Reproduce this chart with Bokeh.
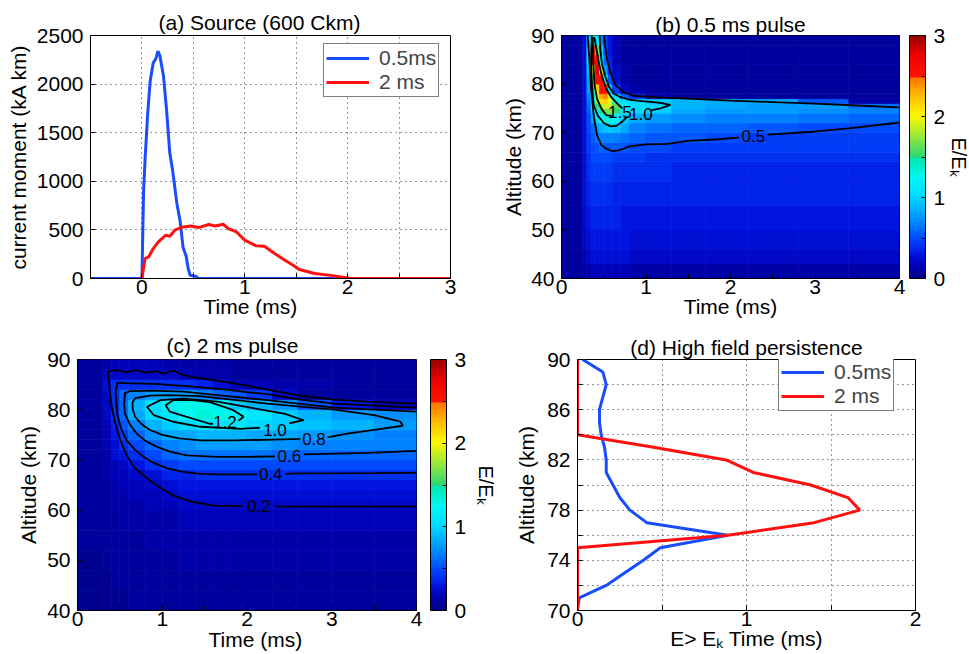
import numpy as np
from bokeh.plotting import figure
from bokeh.models import (Range1d, FixedTicker, Legend, LegendItem, Title,
                          ColorBar, LinearColorMapper, ColumnDataSource)
from bokeh.layouts import row, column
from bokeh.core.properties import value
from bokeh.embed import file_html
from bokeh.resources import INLINE

nan = float("nan")
FONT = "Liberation Sans"
FS = "21px"
BLUE = "#1a4cff"
RED = "#ff1010"

# ---------------- (a) Source current moment (kA km) vs time (ms) ----------------
pulse05_t = [-0.5, 0.0, 0.016, 0.032, 0.055, 0.08, 0.11, 0.135, 0.155, 0.175, 0.21, 0.24,
             0.27, 0.30, 0.34, 0.37, 0.40, 0.43, 0.45, 0.47, 0.50, 0.53, 0.55, 3.0]
pulse05_v = [0, 0, 900, 1250, 1680, 2030, 2220, 2260, 2340, 2290, 2080, 1730,
             1300, 1100, 770, 600, 320, 230, 100, 30, 30, 20, 0, 0]
pulse2_t = [0.0, 0.03, 0.065, 0.11, 0.16, 0.23, 0.27, 0.32, 0.40, 0.48, 0.55, 0.65, 0.71,
            0.79, 0.84, 0.92, 1.0, 1.11, 1.19, 1.29, 1.39, 1.47, 1.53, 1.68, 1.87, 2.03, 3.0]
pulse2_v = [0, 205, 222, 308, 376, 445, 435, 497, 531, 541, 524, 555, 541,
            558, 514, 479, 394, 336, 332, 257, 188, 137, 92, 51, 27, 0, 0]
legend_labels = ["0.5ms", "2 ms"]

# ---------------- (b) 0.5 ms pulse: E/Ek field ----------------
b_time_edges = [0, 0.25, 0.3, 0.35, 0.4, 0.45, 0.5, 0.55, 0.6, 0.7, 0.8, 1.0, 1.3, 1.7, 2.2, 2.8, 3.4, 4.0]
b_alt_edges = [40, 43, 46, 50, 55, 60, 64, 66, 68, 70, 72, 74, 75, 76, 77, 78, 80, 82, 84, 86, 88, 90]
b_field = [
    [.06, .12, .14, .15, .15, .15, .15, .15, .15, .15, .14, .14, .14, .13, .13, .13, .13],
    [.06, .16, .22, .24, .25, .25, .25, .25, .24, .24, .23, .22, .22, .21, .21, .21, .21],
    [.07, .20, .28, .30, .31, .31, .31, .30, .29, .29, .28, .27, .27, .26, .26, .26, .26],
    [.07, .22, .32, .35, .36, .36, .35, .34, .33, .32, .31, .30, .30, .30, .29, .29, .29],
    [.08, .24, .36, .39, .40, .40, .39, .38, .37, .36, .35, .34, .33, .33, .33, .33, .33],
    [.08, .25, .40, .44, .45, .45, .44, .43, .41, .40, .39, .38, .37, .37, .37, .37, .37],
    [.08, .26, .42, .47, .49, .49, .48, .47, .46, .45, .43, .42, .41, .41, .40, .40, .40],
    [.08, .27, .44, .50, .55, .57, .56, .55, .53, .52, .50, .48, .46, .45, .44, .43, .43],
    [.08, .28, .45, .52, .62, .68, .70, .70, .68, .64, .58, .54, .52, .49, .46, .44, .43],
    [.08, .28, .47, .60, .76, .85, .90, .95, .92, .80, .68, .62, .60, .57, .54, .51, .47],
    [.08, .28, .50, .75, 1.0, 1.2, 1.35, 1.35, 1.2, .98, .82, .76, .72, .70, .66, .62, .58],
    [.08, .28, .55, .95, 1.2, 1.5, 1.65, 1.7, 1.5, 1.1, 1.0, .96, .80, .78, .75, .72, .68],
    [.08, .28, .60, 1.1, 1.5, 1.8, 1.9, 1.9, 1.6, 1.15, 1.05, 1.03, .85, .82, .79, .75, .62],
    [.08, .28, .65, 1.2, 1.7, 2.1, 2.2, 2.0, 1.4, 1.05, 1.0, .95, .86, .83, .80, .55, .10],
    [.08, .28, .70, 1.3, 1.9, 2.3, 2.4, 1.9, 1.1, .60, .42, .10, .07, .06, .06, .06, .06],
    [.07, .27, .75, 1.4, 2.2, 2.6, 2.5, 1.0, .45, .20, .10, .06, .05, .05, .05, .05, .05],
    [.07, .27, .80, 1.6, 2.6, 2.6, 1.2, .55, .25, .12, .07, .05, .05, .05, .05, .05, .05],
    [.07, .26, .90, 2.0, 2.8, 1.8, .75, .40, .20, .10, .06, .05, .05, .05, .05, .05, .05],
    [.07, .26, 1.0, 2.6, 2.6, 1.2, .60, .35, .15, .08, .05, .05, .05, .05, .05, .05, .05],
    [.07, .26, 1.0, 2.6, 1.6, .90, .50, .30, .15, .08, .05, .05, .05, .05, .05, .05, .05],
    [.07, .26, .90, 1.4, 1.1, .70, .45, .30, .15, .08, .05, .05, .05, .05, .05, .05, .05],
]
b_c05_t = [0.31, 0.33, 0.35, 0.38, 0.42, 0.47, 0.52, 0.60, 0.66, 0.72, 0.80, 1.00, 1.25, 1.50, 1.80, 2.10,
           nan, 2.44, 2.98, 3.40, 4.00, nan,
           0.50, 0.54, 0.58, 0.64, 0.74, 0.85, 1.10, 1.50, 2.00, 2.50, 3.00, 3.50, 4.00]
b_c05_a = [90, 85, 79, 73.7, 69.5, 67.5, 66.8, 66.2, 66.3, 66.6, 67.2, 67.6, 67.7, 68.3, 68.6, 69.0,
           nan, 69.6, 70.2, 70.9, 72.1, nan,
           90, 85, 82.3, 79.8, 78.3, 77.6, 77.3, 77.0, 76.6, 76.3, 76.0, 75.6, 75.2]
b_c10_t = [0.36, 0.35, 0.36, 0.38, 0.43, 0.50, 0.58, 0.65, 0.72, 0.78, nan,
           1.06, 1.17, 1.29, 1.15, 0.95, 0.80, 0.70, 0.62, 0.56, 0.52, 0.48, 0.46, 0.45]
b_c10_a = [90, 85, 80, 75.7, 73.5, 72.0, 71.3, 71.4, 72.3, 73.3, nan,
           74.6, 75.0, 75.7, 76.2, 76.5, 76.8, 77.3, 78.0, 79.5, 81.5, 84.0, 87.0, 90]
b_c15_t = [0.37, 0.375, 0.39, 0.42, 0.47, 0.53, 0.60, nan, 0.72, 0.66, 0.59, 0.53, 0.48, 0.44, 0.41, 0.39, 0.37]
b_c15_a = [89.5, 85, 80, 77, 75, 73.6, 73.4, nan, 75.0, 76.0, 77.3, 79, 81.5, 84.5, 87.5, 89.5, 89.5]
b_lab_text = ["0.5", "1.5", "1.0"]
b_lab_t = [2.27, 0.69, 0.94]
b_lab_a = [69.4, 74.2, 73.9]

# ---------------- (c) 2 ms pulse: E/Ek field ----------------
c_time_edges = [0, 0.3, 0.4, 0.5, 0.6, 0.8, 1.0, 1.2, 1.4, 1.6, 1.8, 2.0, 2.3, 2.6, 3.0, 3.5, 4.0]
c_alt_edges = [40, 44, 48, 52, 56, 60, 62, 64, 66, 68, 70, 72, 74, 76, 78, 80, 82, 84, 86, 88, 90]
c_field = [
    [.04, .04, .04, .04, .05, .05, .05, .05, .06, .06, .06, .06, .07, .07, .07, .07],
    [.04, .04, .05, .05, .06, .06, .07, .07, .08, .08, .08, .09, .09, .09, .09, .09],
    [.04, .05, .06, .06, .07, .08, .09, .10, .10, .11, .11, .11, .11, .11, .11, .11],
    [.05, .05, .07, .08, .09, .10, .11, .12, .13, .13, .14, .14, .14, .14, .14, .14],
    [.05, .06, .09, .10, .11, .12, .14, .15, .16, .17, .17, .17, .17, .17, .17, .17],
    [.05, .07, .10, .12, .13, .15, .17, .19, .20, .21, .21, .21, .21, .21, .21, .21],
    [.05, .08, .11, .13, .15, .17, .20, .24, .26, .27, .27, .27, .27, .27, .27, .27],
    [.05, .09, .12, .15, .18, .21, .26, .29, .31, .32, .32, .32, .32, .32, .32, .32],
    [.05, .10, .15, .18, .22, .28, .34, .37, .39, .40, .40, .40, .39, .39, .38, .38],
    [.05, .12, .18, .22, .30, .38, .43, .47, .49, .50, .50, .50, .50, .49, .49, .48],
    [.05, .14, .24, .32, .40, .50, .58, .61, .62, .62, .61, .61, .60, .59, .58, .57],
    [.05, .15, .28, .38, .47, .60, .68, .72, .75, .76, .76, .75, .72, .70, .68, .66],
    [.05, .16, .32, .45, .60, .72, .80, .84, .87, .87, .86, .84, .82, .78, .74, .70],
    [.05, .18, .36, .52, .70, .85, .95, 1.02, 1.10, 1.12, 1.08, 1.00, .95, .90, .85, .76],
    [.05, .20, .40, .58, .82, 1.0, 1.12, 1.25, 1.35, 1.30, 1.20, 1.10, .98, .88, .78, .72],
    [.05, .20, .40, .60, .85, 1.05, 1.20, 1.28, 1.30, 1.20, .98, .85, .75, .55, .30, .15],
    [.05, .20, .42, .60, .70, .76, .78, .75, .68, .58, .52, .45, .20, .08, .07, .06],
    [.05, .25, .42, .42, .42, .42, .41, .38, .33, .25, .18, .15, .12, .10, .09, .08],
    [.05, .20, .22, .22, .22, .21, .20, .16, .13, .11, .09, .08, .07, .06, .06, .06],
    [.05, .12, .15, .15, .15, .15, .14, .13, .12, .10, .08, .07, .06, .06, .06, .06],
]
c_c02_t = [4.0, 3.42, 3.03, 2.63, 2.24, 2.0, 1.76, 1.56, 1.4, 1.25, 1.13, 1.01, 0.93, 0.81, 0.69, 0.58, 0.46, 0.36,
           0.37, 0.38, 0.40, 0.44, 0.50, 0.58, 0.68, 0.90, 1.13, 1.37, 1.61, 1.95, nan, 2.33, 3.0, 4.0]
c_c02_a = [81.2, 81.6, 82.0, 82.8, 84.0, 84.8, 85.5, 86.0, 86.4, 86.9, 87.8, 87.2, 87.7, 87.4, 87.9, 87.5, 87.9, 87.6,
           86.0, 84.2, 80.9, 77.6, 74.2, 70.9, 68.3, 65.3, 62.9, 61.6, 60.9, 60.8, nan, 60.7, 60.7, 60.7]
c_c04_t = [4.0, 3.03, 2.63, 2.24, 2.0, 1.76, 1.36, 0.97, 0.58, 0.47, 0.45, 0.46, 0.47, 0.52, 0.58, 0.68, 0.78,
           0.9, 1.06, 1.25, 1.45, 1.7, 2.12, nan, 2.45, 2.63, 3.5, 4.0]
c_c04_a = [80.4, 81.2, 82.0, 83.1, 83.5, 84.0, 84.6, 85.1, 85.3, 85.4, 83.5, 81.0, 79.0, 76.0, 73.9, 72.0, 70.6,
           69.4, 68.3, 67.6, 67.2, 67.1, 67.1, nan, 67.2, 67.3, 67.35, 67.4]
c_c06_t = [4.0, 3.03, 2.24, 1.65, 1.25, 0.86, 0.62, 0.56, 0.55, 0.56, 0.62, 0.70, 0.80, 0.94, 1.10, 1.29, 1.65,
           2.0, 2.33, nan, 2.67, 3.42, 4.0]
c_c06_a = [79.6, 80.4, 81.9, 82.9, 83.6, 83.8, 83.7, 83.3, 81.0, 79.2, 77.0, 75.2, 73.8, 72.6, 71.6, 70.9, 70.6,
           70.6, 70.7, nan, 71.1, 71.4, 71.8]
c_c08_t = [2.95, 3.2, 3.5, 3.84, 3.81, 3.5, 3.03, 2.24, 1.45, 1.06, 0.85, 0.68, 0.65, 0.65, 0.68, 0.75, 0.85,
           1.0, 1.2, 1.45, 1.84, 2.2, 2.63]
c_c08_a = [74.5, 75.3, 76.0, 76.8, 77.6, 78.9, 80.0, 81.2, 82.7, 82.9, 82.8, 82.3, 81.5, 80.2, 78.6, 77.2, 76.0,
           75.0, 74.3, 73.9, 73.9, 74.0, 74.2]
c_c10_t = [2.15, 1.92, 1.45, 1.13, 0.9, 0.82, 0.98, 1.25, 1.65, 2.04, 2.44, 2.67, 2.5]
c_c10_a = [76.4, 76.2, 76.6, 77.6, 78.9, 80.6, 81.9, 82.2, 81.6, 80.4, 79.2, 77.9, 77.3]
c_c12_t = [1.6, 1.56, 1.28, 1.09, 1.04, 1.13, 1.35, 1.56, 1.84, 1.96, 1.9]
c_c12_a = [77.2, 77.2, 78.6, 79.6, 80.9, 81.9, 81.9, 81.5, 79.9, 78.6, 77.8]
c_lab_text = ["0.2", "0.4", "0.6", "0.8", "1.0", "1.2"]
c_lab_t = [2.14, 2.28, 2.50, 2.79, 2.33, 1.74]
c_lab_a = [60.8, 67.1, 70.8, 74.1, 76.0, 77.5]

# ---------------- (d) High field persistence ----------------
d_alt = [90, 89, 88, 87, 86, 85, 84, 83, 82, 81, 80, 79, 78, 77, 76, 75, 74, 73, 72, 71, 70]
d_time_05 = [0.03, 0.15, 0.17, 0.15, 0.13, 0.13, 0.14, 0.16, 0.17, 0.17, 0.21, 0.25, 0.31, 0.41, 0.89,
             0.49, 0.39, 0.28, 0.17, 0.01, 0.0]
d_time_2 = [0, 0, 0, 0, 0, 0, 0, 0.45, 0.88, 1.04, 1.38, 1.60, 1.67, 1.40, 0.89, 0, 0, 0, 0, 0, 0]

# ---------------- colour map (E/Ek, 0..3) ----------------
cmap_anchors = [(0.0, (0, 0, 135)), (0.15, (0, 0, 180)), (0.3, (0, 20, 225)), (0.5, (0, 75, 255)),
                (0.75, (0, 150, 255)), (1.0, (0, 215, 255)), (1.25, (0, 250, 245)), (1.49, (0, 230, 170)),
                (1.5, (40, 215, 120)), (1.75, (150, 230, 60)), (2.0, (250, 250, 0)), (2.25, (255, 190, 0)),
                (2.49, (255, 110, 0)), (2.5, (255, 20, 0)), (2.75, (240, 0, 0)), (3.0, (150, 0, 0))]


def build_palette(n=64):
    pal = []
    for i in range(n):
        v = (i + 0.5) / n * 3.0
        col = cmap_anchors[-1][1]
        for (v0, c0), (v1, c1) in zip(cmap_anchors[:-1], cmap_anchors[1:]):
            if v0 <= v <= v1:
                f = (v - v0) / (v1 - v0)
                col = tuple(int(round(a + (b - a) * f)) for a, b in zip(c0, c1))
                break
        pal.append("#%02x%02x%02x" % col)
    return pal


mapper = LinearColorMapper(palette=build_palette(), low=0, high=3)


def base_fig(w, h, xr, yr, bl, br, bt, bb):
    p = figure(width=w, height=h, x_range=Range1d(*xr), y_range=Range1d(*yr),
               output_backend="svg", toolbar_location=None, title_location=None,
               min_border_left=bl, min_border_right=br, min_border_top=bt, min_border_bottom=bb)
    p.outline_line_color = "black"
    p.outline_line_width = 1
    p.outline_line_alpha = 1
    p.background_fill_color = "white"
    p.border_fill_color = "white"
    return p


def style_axes(p, xticks, xlabs, yticks, ylabs, grid):
    for ax, ticks, labs, so in ((p.xaxis[0], xticks, xlabs, 1), (p.yaxis[0], yticks, ylabs, 7)):
        ax.ticker = FixedTicker(ticks=ticks)
        ax.major_label_overrides = {t: l for t, l in zip(ticks, labs)}
        ax.major_label_text_font = FONT
        ax.major_label_text_font_size = FS
        ax.major_label_text_color = "black"
        ax.major_tick_in = 5
        ax.major_tick_out = 0
        ax.major_tick_line_color = "black"
        ax.minor_tick_line_color = None
        ax.axis_line_color = "black"
        ax.major_label_standoff = so
    if grid:
        p.xgrid.ticker = FixedTicker(ticks=xticks)
        p.ygrid.ticker = FixedTicker(ticks=yticks)
        for g in (p.xgrid, p.ygrid):
            g.grid_line_color = "black"
            g.grid_line_alpha = 0.8
            g.grid_line_dash = "1 4"
            g.grid_line_width = 1
    else:
        p.grid.visible = False


def add_title(p, text, side, align="center", offset=0, standoff=0, valign="bottom", size=FS, lh=1.0):
    p.add_layout(Title(text=text, align=align, offset=offset, standoff=standoff, vertical_align=valign,
                       text_font=FONT, text_font_size=size, text_font_style="normal",
                       text_line_height=lh, text_color="black"), side)


def add_legend(p, renderers, loc):
    leg = Legend(items=[LegendItem(label=l, renderers=[r]) for l, r in zip(legend_labels, renderers)],
                 location=loc, label_text_font=FONT, label_text_font_size=FS,
                 label_text_line_height=0.9,
                 glyph_width=43, glyph_height=20, label_height=20, label_standoff=10,
                 padding=2, spacing=0, margin=0, border_line_color="black", border_line_width=1,
                 background_fill_color="white", background_fill_alpha=1)
    p.add_layout(leg)


def heatmap(p, t_edges, a_edges, field):
    L, R, B, T, V = [], [], [], [], []
    for j, rowv in enumerate(field):
        for i, v in enumerate(rowv):
            L.append(t_edges[i]); R.append(t_edges[i + 1])
            B.append(a_edges[j]); T.append(a_edges[j + 1]); V.append(v)
    src = ColumnDataSource(dict(left=L, right=R, bottom=B, top=T, val=V))
    p.quad(left="left", right="right", bottom="bottom", top="top", source=src,
           fill_color={"field": "val", "transform": mapper},
           line_color={"field": "val", "transform": mapper}, line_width=0.7)


def contours(p, pairs, lab_text, lab_t, lab_a):
    for xs, ys in pairs:
        p.line(np.array(xs, dtype=float), np.array(ys, dtype=float), line_color="black", line_width=1.8)
    p.text(x=lab_t, y=lab_a, text=lab_text, text_font=value(FONT), text_font_size=value("17px"),
           text_align="center", text_baseline="middle", text_color="black")


def colorbar(p, gap):
    cb = ColorBar(color_mapper=mapper, ticker=FixedTicker(ticks=[0, 0.5, 1, 1.5, 2, 2.5, 3]),
                  major_label_overrides={0.5: "", 1.5: "", 2.5: ""}, width=16, margin=0, padding=0,
                  location=(gap, 0),
                  label_standoff=8, major_label_text_font=FONT, major_label_text_font_size=FS,
                  major_label_text_color="black", major_tick_in=4, major_tick_line_color="black",
                  bar_line_color="black", border_line_color=None, background_fill_alpha=0)
    p.add_layout(cb, "right")


# ---------------- panel (a) ----------------
pa = base_fig(487, 322, (-0.5, 3), (0, 2500), 90, 37, 35, 44)
xa = [-0.5, 0, 0.5, 1, 1.5, 2, 2.5, 3]
style_axes(pa, xa, ["", "0", "", "1", "", "2", "", "3"],
           [0, 500, 1000, 1500, 2000, 2500], ["0", "500", "1000", "1500", "2000", "2500"], True)
ra1 = pa.line(pulse05_t, pulse05_v, line_color=BLUE, line_width=3)
ra2 = pa.line(pulse2_t, pulse2_v, line_color=RED, line_width=3)
add_legend(pa, [ra1, ra2], (233, 181))
add_title(pa, "(a) Source (600 Ckm)", "above", align="left", offset=68, standoff=2, valign="middle")
add_title(pa, "current moment (kA km)", "left", standoff=8, lh=1.2)
add_title(pa, "Time (ms)", "below", align="left", offset=113, standoff=-3, valign="top")

# ---------------- panel (b) ----------------
pb = base_fig(481, 322, (0, 4), (40, 90), 74, 69, 28, 43)
heatmap(pb, b_time_edges, b_alt_edges, b_field)
contours(pb, [(b_c05_t, b_c05_a), (b_c10_t, b_c10_a), (b_c15_t, b_c15_a)], b_lab_text, b_lab_t, b_lab_a)
xt4 = [0, 0.5, 1, 1.5, 2, 2.5, 3, 3.5, 4]
xl4 = ["0", "", "1", "", "2", "", "3", "", "4"]
yt = [40, 50, 60, 70, 80, 90]
yl = ["40", "50", "60", "70", "80", "90"]
style_axes(pb, xt4, xl4, yt, yl, False)
colorbar(pb, 10)
add_title(pb, "(b) 0.5 ms pulse", "above", standoff=-3, valign="middle")
add_title(pb, "Altitude (km)", "left", standoff=7, lh=1.2)
add_title(pb, "Time (ms)", "below", standoff=-4, valign="top")
add_title(pb, "E/E\u2096", "right", standoff=-4, size="20px", valign="middle")

# ---------------- panel (c) ----------------
pc = base_fig(502, 331, (0, 4), (40, 90), 77, 86, 37, 43)
heatmap(pc, c_time_edges, c_alt_edges, c_field)
contours(pc, [(c_c02_t, c_c02_a), (c_c04_t, c_c04_a), (c_c06_t, c_c06_a), (c_c08_t, c_c08_a),
              (c_c10_t, c_c10_a), (c_c12_t, c_c12_a)], c_lab_text, c_lab_t, c_lab_a)
style_axes(pc, xt4, xl4, yt, yl, False)
colorbar(pc, 14)
add_title(pc, "(c) 2 ms pulse", "above", align="left", offset=89, standoff=4, valign="middle")
add_title(pc, "Altitude (km)", "left", standoff=9, lh=1.2)
add_title(pc, "Time (ms)", "below", align="left", offset=131, standoff=-2, valign="top")
add_title(pc, "E/E\u2096", "right", standoff=9, size="20px", valign="middle")

# ---------------- panel (d) ----------------
pd = base_fig(466, 331, (0, 2), (70, 90), 75, 53, 33, 41)
rd1 = pd.line(d_time_05, d_alt, line_color=BLUE, line_width=3)
rd2 = pd.line(d_time_2, d_alt, line_color=RED, line_width=3)
style_axes(pd, [0, 0.5, 1, 1.5, 2], ["0", "", "1", "", "2"],
           [70, 72, 74, 76, 78, 80, 82, 84, 86, 88, 90],
           ["70", "", "74", "", "78", "", "82", "", "86", "", "90"], True)
add_legend(pd, [rd1, rd2], (201, 199))
add_title(pd, "(d) High field persistence", "above", standoff=0, valign="middle")
add_title(pd, "Altitude (km)", "left", standoff=14, lh=1.2)
add_title(pd, "E> E\u2096 Time (ms)", "below", standoff=-3, valign="top")

layout = column(row(pa, pb), row(pc, pd))
open("out.html", "w").write(file_html(layout, INLINE))
